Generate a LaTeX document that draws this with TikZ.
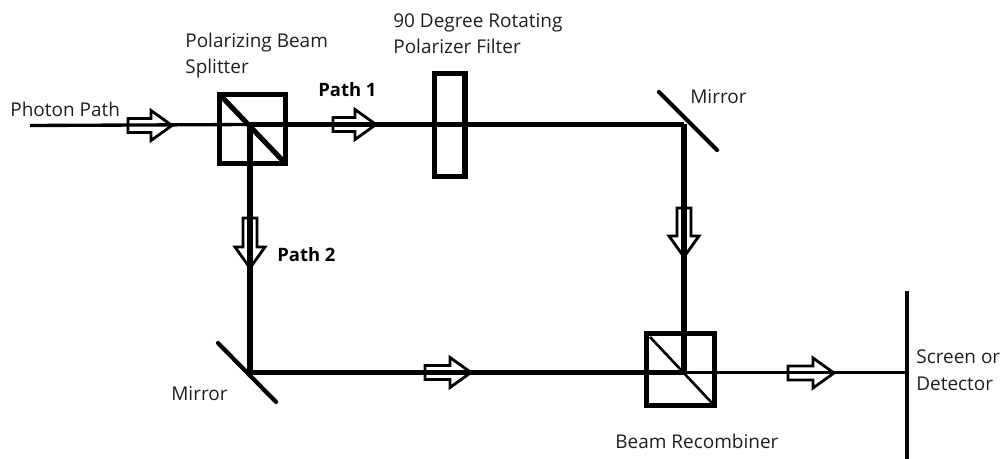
\documentclass[tikz,border=0pt]{standalone}
\usepackage{fontspec}
\setmainfont{Open Sans}
\usepackage{xcolor}
\usetikzlibrary{calc,positioning}
\colorlet{labelgray}{black!88}
\newcommand{\openarrow}[4]{%
  \draw[flowarrow,shift={(#1,#2)},rotate=#3] (0,-7)--({#4-21},-7)--({#4-21},-15)--(#4,0)--({#4-21},15)--({#4-21},7)--(0,7)--cycle;}
\tikzset{
  heavy/.style={line width=2.9pt},
  medium/.style={line width=1.9pt},
  flowarrow/.style={line width=1.6pt,line join=miter},
  cube/.style={draw,heavy,minimum width=1.32cm,minimum height=1.38cm,inner sep=0pt,outer sep=0pt},
  caption/.style={anchor=base west,inner sep=0pt,font=\fontsize{10.8pt}{12pt}\selectfont,text=labelgray},
  pathlabel/.style={caption,font=\fontsize{10.5pt}{12pt}\selectfont\bfseries,text=black},
}
\begin{document}
\begin{tikzpicture}[x=0.02cm,y=-0.02cm]
\useasboundingbox (0,0) rectangle (1003,459);
% beam paths
\coordinate (source) at (30,125.5);
\coordinate (mirrorA) at (684,124.5);
\coordinate (mirrorB) at (250,372.5);
\node[cube] (splitter) at (252.5,129) {};
\node[cube,minimum width=1.36cm,minimum height=1.44cm] (recombiner) at (680.5,369.5) {};
\node[draw,heavy,minimum width=0.61cm,minimum height=2.07cm,inner sep=0pt,outer sep=0pt] (filter) at (449.7,125.2) {};
\coordinate (splitCenter) at (250,124.5);
\coordinate (recCenter) at (684,372.5);
\coordinate (screenHit) at (907,372.5);
\coordinate (screenTop) at (907,291);
\coordinate (screenEnd) at (907,459);
\draw[medium] (source)--(splitCenter);
\draw[heavy] (splitCenter)--(mirrorA);
\draw[heavy] (splitCenter)--(mirrorB);
\draw[heavy] (mirrorA)--(recCenter);
\draw[heavy] (mirrorB)--(recCenter);
\draw[medium] (recCenter)--(screenHit);
\draw[line width=2pt] (screenTop)--(screenEnd);
% splitter faces and mirrors
\draw[heavy] (222,97)--(285,163);
\draw[medium,line width=1.5pt] (650,337)--(712,403);
\draw[line width=2.4pt,line cap=round] (659,92)--(717,150);
\draw[line width=2.4pt,line cap=round] (218,343)--(276,402);
% direction arrows
\openarrow{128}{125.5}{0}{44}
\openarrow{333}{124.5}{0}{43}
\openarrow{250}{218}{-90}{50}
\openarrow{684}{208}{-90}{49}
\openarrow{425}{372.5}{0}{46}
\openarrow{788}{373}{0}{46}
% labels
\node[caption] (photonlabel) at (10,117) {Photon Path};
\node[caption] (splitterlabel) at (185,48) {Polarizing Beam};
\node[caption] (splitterlabelb) at (185,74) {Splitter};
\node[caption] (filterlabel) at (393,28) {90 Degree Rotating};
\node[caption] (filterlabelb) at (393,54) {Polarizer Filter};
\node[pathlabel] (pathone) at (318,97) {Path 1};
\node[pathlabel] (pathtwo) at (277,261) {Path 2};
\node[caption] (mirrorlabela) at (690,104) {Mirror};
\node[caption] (mirrorlabelb) at (171,400) {Mirror};
\node[caption] (recombinerlabel) at (615,448) {Beam Recombiner};
\node[caption] (screenlabel) at (916,363) {Screen or};
\node[caption] (screenlabelb) at (916,390) {Detector};
\end{tikzpicture}
\end{document}
